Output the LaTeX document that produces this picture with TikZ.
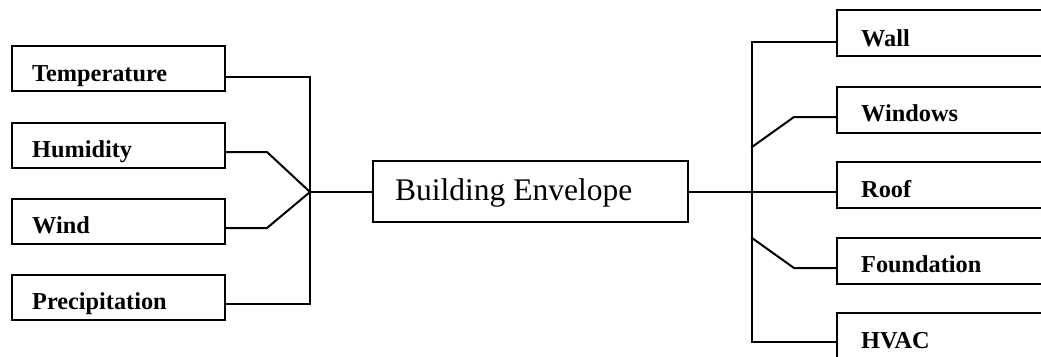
\documentclass[tikz,border=0pt]{standalone}
\usepackage{fontspec}
\setmainfont{Liberation Serif}
\usetikzlibrary{calc}
\begin{document}
\begin{tikzpicture}[x=1pt,y=-1pt,
  box/.style={draw=black,line width=2pt,rectangle,inner sep=0pt,fill=none},
  lbox/.style={box,minimum width=213pt,minimum height=45pt},
  rbox/.style={box,minimum width=230pt,minimum height=46pt},
  lbl/.style={anchor=base west,inner sep=0pt,font=\fontsize{24.3pt}{27pt}\selectfont\bfseries},
  conn/.style={draw=black,line width=2pt,line cap=rect,line join=miter}]
\useasboundingbox (0,0) rectangle (1041,356);
\clip (0,0) rectangle (1041,356);
\fill[white] (0,0) rectangle (1041,356);
% left boxes
\node[lbox] (tem) at (118.5,68.5) {};
\node[lbox] (hum) at (118.5,145) {};
\node[lbox] (win) at (118.5,221) {};
\node[lbox] (pre) at (118.5,297) {};
\node[lbl] (temL) at ($(tem.south west)+(21,-11)$) {Temperature};
\node[lbl] (humL) at ($(hum.south west)+(21,-11)$) {Humidity};
\node[lbl] (winL) at ($(win.south west)+(21,-11)$) {Wind};
\node[lbl] (preL) at ($(pre.south west)+(21,-11)$) {Precipitation};
% centre box
\node[box,minimum width=315pt,minimum height=61pt] (be) at (530.5,191.5) {};
\node[anchor=base west,inner sep=0pt,font=\fontsize{31.5pt}{35pt}\selectfont] (beL) at (395,200) {Building Envelope};
% right boxes
\node[rbox] (wal) at (952,33) {};
\node[rbox] (wdw) at (952,109.5) {};
\node[rbox] (roo) at (952,185) {};
\node[rbox] (fou) at (952,260.5) {};
\node[rbox] (hva) at (952,336) {};
\node[lbl] (walL) at ($(wal.south west)+(25,-11)$) {Wall};
\node[lbl] (wdwL) at ($(wdw.south west)+(25,-12)$) {Windows};
\node[lbl] (rooL) at ($(roo.south west)+(25,-12)$) {Roof};
\node[lbl] (fouL) at ($(fou.south west)+(25,-12)$) {Foundation};
\node[lbl] (hvaL) at ($(hva.south west)+(25,-12)$) {HVAC};
% left junction
\coordinate (lj) at (310,192);
\draw[conn] ($(tem.east)+(0,8)$) -| (310,304) -- ($(pre.east)+(0,7)$);
\draw[conn] ($(hum.east)+(0,7)$) -- (267,152) -- (lj);
\draw[conn] ($(win.east)+(0,7)$) -- (267,228) -- (lj);
\draw[conn] (lj) -- (lj -| be.west);
% right junction
\draw[conn] (be.east |- lj) -- ($(roo.west)+(0,7)$);
\draw[conn] ($(wal.west)+(0,9)$) -- (752,42) -- (752,342) -- ($(hva.west)+(0,6)$);
\draw[conn] (752,147) -- (794,117) -- ($(wdw.west)+(0,7.5)$);
\draw[conn] (752,238) -- (794,268) -- ($(fou.west)+(0,7.5)$);
\end{tikzpicture}
\end{document}
